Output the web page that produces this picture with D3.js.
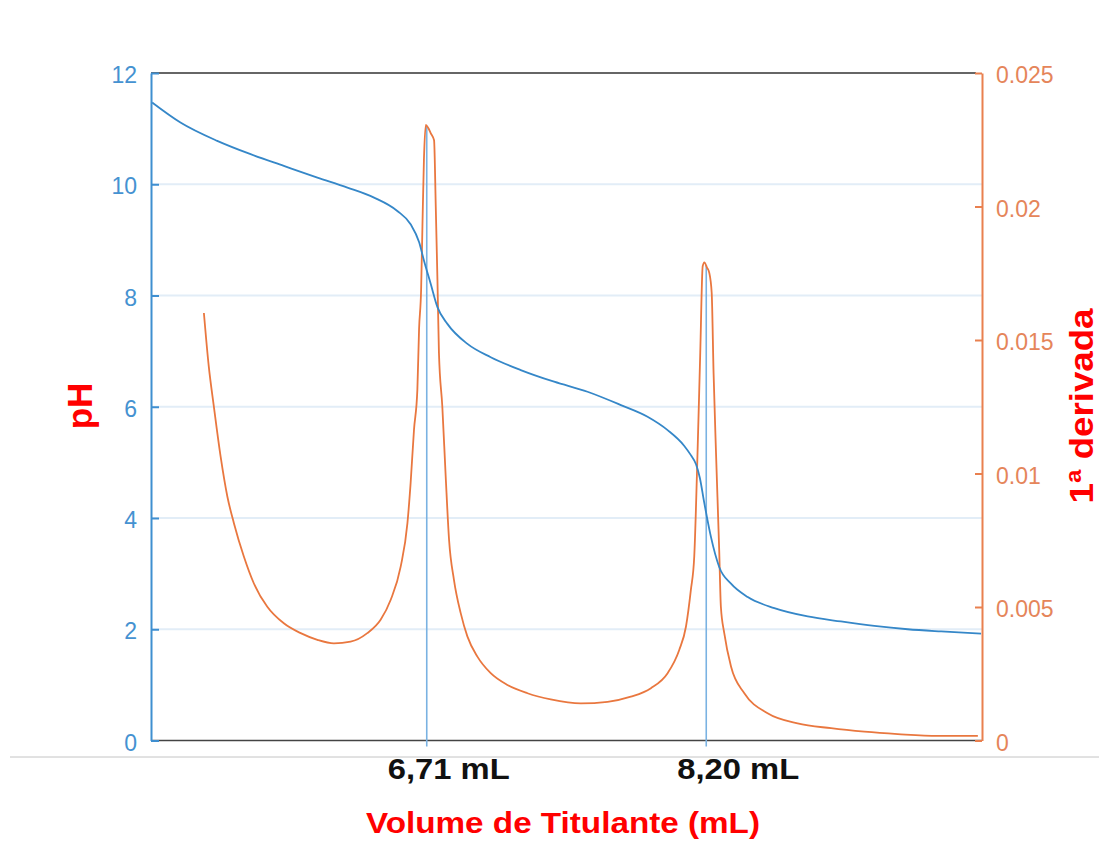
<!DOCTYPE html>
<html>
<head>
<meta charset="utf-8">
<script src="https://cdn.jsdelivr.net/npm/d3@7"></script>
<style>
  body { margin: 0; background: #fff; }
  text { font-family: "Liberation Sans", Arial, Helvetica, sans-serif; }
</style>
</head>
<body>
<svg id="chart" width="1099" height="841"></svg>
<script>
// titration curve (pH vs volume, mL)
var phVolume = [5.246, 5.397, 5.593, 5.771, 5.948, 6.127, 6.287, 6.429, 6.553, 6.624, 6.669, 6.695,
  6.731, 6.767, 6.820, 6.927, 7.051, 7.211, 7.389, 7.567, 7.745, 7.887, 7.994, 8.082, 8.118, 8.145,
  8.166, 8.189, 8.225, 8.269, 8.332, 8.421, 8.563, 8.741, 8.918, 9.096, 9.274, 9.452, 9.665];
var phValues = [11.47, 11.11, 10.78, 10.54, 10.33, 10.12, 9.94, 9.76, 9.52, 9.28, 8.96, 8.63,
  8.21, 7.79, 7.49, 7.13, 6.89, 6.66, 6.45, 6.27, 6.03, 5.82, 5.58, 5.30, 5.13, 4.97,
  4.72, 4.28, 3.66, 3.12, 2.82, 2.58, 2.38, 2.23, 2.14, 2.06, 2.00, 1.96, 1.92];

// first derivative (dpH/dV)
var derivVolume = [5.522, 5.548, 5.575, 5.611, 5.647, 5.682, 5.735, 5.788, 5.860, 5.948, 6.038, 6.127,
  6.215, 6.304, 6.393, 6.464, 6.518, 6.571, 6.607, 6.624, 6.642, 6.660, 6.669, 6.680, 6.687, 6.695,
  6.705, 6.718, 6.731, 6.749, 6.758, 6.767, 6.775, 6.793, 6.811, 6.829, 6.855, 6.891, 6.927, 6.980,
  7.051, 7.140, 7.247, 7.371, 7.531, 7.674, 7.798, 7.905, 7.994, 8.056, 8.092, 8.118, 8.136, 8.154,
  8.168, 8.181, 8.190, 8.204, 8.216, 8.229, 8.239, 8.252, 8.269, 8.278, 8.296, 8.332, 8.403, 8.527,
  8.687, 8.865, 9.043, 9.221, 9.434, 9.648];
var derivValues = [0.01601, 0.01401, 0.01251, 0.01064, 0.00914, 0.00814, 0.00689, 0.00589, 0.00501, 0.00439, 0.00402, 0.00377,
  0.00364, 0.00370, 0.00402, 0.00452, 0.00527, 0.00651, 0.00814, 0.00964, 0.01164, 0.01314, 0.01540, 0.01689, 0.01926, 0.02176,
  0.02306, 0.02294, 0.02275, 0.02248, 0.02001, 0.01726, 0.01452, 0.01251, 0.00989, 0.00751, 0.00602, 0.00477, 0.00389, 0.00314,
  0.00252, 0.00208, 0.00177, 0.00154, 0.00139, 0.00145, 0.00164, 0.00196, 0.00252, 0.00339, 0.00427, 0.00564, 0.00689, 0.01089,
  0.01452, 0.01776, 0.01791, 0.01771, 0.01752, 0.01677, 0.01377, 0.01078, 0.00714, 0.00501, 0.00402, 0.00277, 0.00177, 0.00102,
  0.00064, 0.00046, 0.00033, 0.00024, 0.00017, 0.00017];

// equivalence points
var eqVolumes = [6.71, 8.20];
var eqTops = [0.0230, 0.0178];
var eqLabels = ["6,71 mL", "8,20 mL"];

var phTicks = [0, 2, 4, 6, 8, 10, 12];
var derivTicks = [0, 0.005, 0.01, 0.015, 0.02, 0.025];

var plotLeft = 151, plotRight = 982, plotTop = 73, plotBottom = 740.5;
var blue = "#3587c8", orange = "#e9773f";

var svg = d3.select("#chart");

var x = d3.scaleLinear().domain([5.24, 9.67]).range([plotLeft, plotRight]);
var yL = d3.scaleLinear().domain([0, 12]).range([plotBottom, plotTop]);
var yR = d3.scaleLinear().domain([0, 0.025]).range([plotBottom, plotTop]);

// separator line under the plot
svg.append("line")
    .attr("x1", 10).attr("x2", 1099)
    .attr("y1", 757).attr("y2", 757)
    .attr("stroke", "#c4c4c4").attr("stroke-width", 1);

// gridlines
svg.append("g").selectAll("line")
  .data(phTicks.filter(function(d) { return d > 0 && d < 12; }))
  .join("line")
    .attr("x1", plotLeft).attr("x2", plotRight)
    .attr("y1", function(d) { return yL(d); })
    .attr("y2", function(d) { return yL(d); })
    .attr("stroke", "#e2edf7").attr("stroke-width", 2);

// top and bottom border
svg.append("line")
    .attr("x1", plotLeft).attr("x2", plotRight - 6).attr("y1", plotTop).attr("y2", plotTop)
    .attr("stroke", "#333").attr("stroke-width", 1.5);
svg.append("line")
    .attr("x1", plotLeft).attr("x2", plotRight).attr("y1", plotBottom).attr("y2", plotBottom)
    .attr("stroke", "#444").attr("stroke-width", 1.5);

// vertical lines at the equivalence points
svg.append("g").selectAll("line")
  .data(eqVolumes)
  .join("line")
    .attr("x1", function(d) { return x(d); })
    .attr("x2", function(d) { return x(d); })
    .attr("y1", function(d, i) { return yR(eqTops[i]); })
    .attr("y2", plotBottom + 6)
    .attr("stroke", "#7ab2e2").attr("stroke-width", 1.6);

// derivative curve
var derivLine = d3.line()
    .x(function(d, i) { return x(derivVolume[i]); })
    .y(function(d) { return yR(d); })
    .curve(d3.curveMonotoneX);
svg.append("path")
    .attr("d", derivLine(derivValues))
    .attr("fill", "none")
    .attr("stroke", orange)
    .attr("stroke-width", 1.8)
    .attr("stroke-linejoin", "round");

// pH curve
var phLine = d3.line()
    .x(function(d, i) { return x(phVolume[i]); })
    .y(function(d) { return yL(d); })
    .curve(d3.curveMonotoneX);
svg.append("path")
    .attr("d", phLine(phValues))
    .attr("fill", "none")
    .attr("stroke", blue)
    .attr("stroke-width", 1.8);

// left axis (pH)
var axisL = svg.append("g")
    .attr("transform", "translate(" + plotLeft + ",0)")
    .call(d3.axisLeft(yL).tickValues(phTicks).tickSizeInner(-8).tickSizeOuter(0).tickPadding(14));
axisL.select(".domain").attr("stroke", "#3f8fd0").attr("stroke-width", 2);
axisL.selectAll(".tick line").attr("stroke", "#3f8fd0").attr("stroke-width", 2);
axisL.selectAll(".tick text")
    .attr("fill", "#4592d1").attr("font-size", 23).attr("dy", "0.42em")
    .style("font-family", "'Liberation Sans', Arial, sans-serif");

// right axis (derivative)
var axisR = svg.append("g")
    .attr("transform", "translate(" + plotRight + ",0)")
    .call(d3.axisRight(yR).tickValues(derivTicks).tickSizeInner(-7).tickSizeOuter(0).tickPadding(14)
      .tickFormat(function(d) { return String(d); }));
axisR.select(".domain").attr("stroke", "#e9804f").attr("stroke-width", 2);
axisR.selectAll(".tick line").attr("stroke", "#e9804f").attr("stroke-width", 2);
axisR.selectAll(".tick text")
    .attr("fill", "#e5855a").attr("font-size", 23).attr("dy", "0.42em")
    .style("font-family", "'Liberation Sans', Arial, sans-serif");

// equivalence labels
var labelShift = [22, 32];
svg.append("g").selectAll("text")
  .data(eqLabels)
  .join("text")
    .attr("x", function(d, i) { return x(eqVolumes[i]) + labelShift[i]; })
    .attr("y", 779)
    .attr("text-anchor", "middle")
    .attr("font-size", 30)
    .attr("font-weight", "bold")
    .attr("fill", "#111")
    .attr("textLength", 122)
    .attr("lengthAdjust", "spacingAndGlyphs")
    .text(function(d) { return d; });

// axis titles
svg.append("text")
    .attr("x", 563).attr("y", 833)
    .attr("text-anchor", "middle")
    .attr("font-size", 30).attr("font-weight", "bold").attr("fill", "#ff0000")
    .attr("textLength", 394).attr("lengthAdjust", "spacingAndGlyphs")
    .text("Volume de Titulante (mL)");

svg.append("text")
    .attr("transform", "translate(92,406) rotate(-90)")
    .attr("text-anchor", "middle")
    .attr("font-size", 35).attr("font-weight", "bold").attr("fill", "#ff0000")
    .text("pH");

svg.append("text")
    .attr("transform", "translate(1093,406) rotate(-90)")
    .attr("text-anchor", "middle")
    .attr("font-size", 33).attr("font-weight", "bold").attr("fill", "#ff0000")
    .attr("textLength", 195).attr("lengthAdjust", "spacingAndGlyphs")
    .text("1ª derivada");
</script>
</body>
</html>
